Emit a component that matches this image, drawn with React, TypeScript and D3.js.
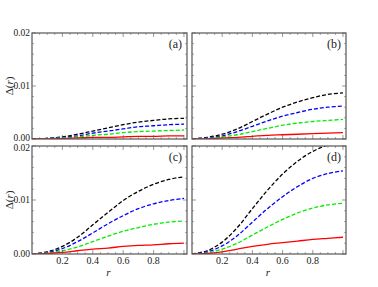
import React from 'react';
import * as d3 from 'd3';

// r sample points
const rValues = [0, 0.1, 0.2, 0.3, 0.4, 0.5, 0.6, 0.7, 0.8, 0.9, 1.0];

// panel (a)
const aBlack = [0, 0.0001, 0.0004, 0.0009, 0.0015, 0.0021, 0.0027, 0.0032, 0.0035, 0.0038, 0.0039];
const aBlue = [0, 0.0001, 0.0003, 0.0006, 0.0011, 0.0015, 0.0019, 0.0023, 0.0025, 0.0027, 0.0028];
const aGreen = [0, 0.00005, 0.0002, 0.0004, 0.0007, 0.0009, 0.0012, 0.0014, 0.0015, 0.0016, 0.0017];
const aRed = [0, 0.00002, 0.0001, 0.0002, 0.0003, 0.0003, 0.0004, 0.0005, 0.0005, 0.0006, 0.0006];

// panel (b)
const bBlack = [0, 0.0003, 0.0009, 0.0019, 0.0033, 0.0047, 0.006, 0.007, 0.0078, 0.0084, 0.0087];
const bBlue = [0, 0.0002, 0.0006, 0.0014, 0.0024, 0.0034, 0.0043, 0.005, 0.0056, 0.006, 0.0062];
const bGreen = [0, 0.0001, 0.0004, 0.0008, 0.0014, 0.002, 0.0026, 0.003, 0.0033, 0.0035, 0.0037];
const bRed = [0, 0.00003, 0.0002, 0.0003, 0.0005, 0.0007, 0.0008, 0.0009, 0.001, 0.0011, 0.0012];

// panel (c)
const cBlack = [0, 0.0004, 0.0014, 0.0031, 0.0054, 0.0077, 0.0099, 0.0116, 0.0129, 0.0138, 0.0143];
const cBlue = [0, 0.0003, 0.001, 0.0023, 0.0039, 0.0056, 0.0071, 0.0084, 0.0093, 0.0099, 0.0103];
const cGreen = [0, 0.0002, 0.0006, 0.0013, 0.0023, 0.0033, 0.0042, 0.0049, 0.0055, 0.0059, 0.0061];
const cRed = [0, 0.0001, 0.0003, 0.0006, 0.0009, 0.0011, 0.0014, 0.0016, 0.0017, 0.0019, 0.002];

// panel (d)
const dBlack = [0, 0.0006, 0.0022, 0.0049, 0.0084, 0.0118, 0.0148, 0.0172, 0.019, 0.0202, 0.021];
const dBlue = [0, 0.0004, 0.0015, 0.0034, 0.0059, 0.0084, 0.0106, 0.0125, 0.014, 0.0149, 0.0154];
const dGreen = [0, 0.0002, 0.0009, 0.002, 0.0035, 0.005, 0.0064, 0.0076, 0.0085, 0.0091, 0.0094];
const dRed = [0, 0.0001, 0.0004, 0.0009, 0.0014, 0.0018, 0.0021, 0.0024, 0.0027, 0.0029, 0.0031];

const panelLabels = ['(a)', '(b)', '(c)', '(d)'];
const xTickLabels = ['0.2', '0.4', '0.6', '0.8'];
const yTickLabels = ['0.00', '0.01', '0.02'];

const seriesStyles = [
  { color: '#000000', dash: '4,2' },
  { color: '#0000ff', dash: '4,2' },
  { color: '#00ee00', dash: '4,2' },
  { color: '#ff0000', dash: null },
];

const panelData = [
  [aBlack, aBlue, aGreen, aRed],
  [bBlack, bBlue, bGreen, bRed],
  [cBlack, cBlue, cGreen, cRed],
  [dBlack, dBlue, dGreen, dRed],
];

const cols = [[32, 187], [192, 346]];
const rows = [[33, 139], [146, 254]];
const font = 'Liberation Serif, Times New Roman, DejaVu Serif, serif';
const frameColor = '#555';

const Panel = ({ idx }: { idx: number }) => {
  const col = idx % 2;
  const row = Math.floor(idx / 2);
  const [x0, x1] = cols[col];
  const [y0, y1] = rows[row];
  const x = d3.scaleLinear().domain([0, 1.02]).range([x0, x1]);
  const y = d3.scaleLinear().domain([0, 0.02]).range([y1, y0]);
  const line = d3
    .line<number>()
    .x((_, i) => x(rValues[i]))
    .y((d) => y(d))
    .curve(d3.curveCatmullRom.alpha(0.5));

  const majorX = [0.2, 0.4, 0.6, 0.8, 1.0];
  const minorX = d3.range(0.05, 1.01, 0.05).filter((v) => Math.abs(v * 5 - Math.round(v * 5)) > 1e-6);
  const majorY = [0, 0.01, 0.02];
  const minorY = d3.range(0.002, 0.02, 0.002).filter((v) => Math.abs(v * 100 - Math.round(v * 100)) > 1e-6);
  const clipId = `clip-${idx}`;

  // nudge the stacked 0.00 / 0.02 labels between the rows apart
  const yLabelShift = (i: number) => (row === 0 && i === 0 ? -1.5 : row === 1 && i === 2 ? 1.5 : 0);

  return (
    <g>
      <defs>
        <clipPath id={clipId}>
          <rect x={x0} y={y0} width={x1 - x0} height={y1 - y0} />
        </clipPath>
      </defs>
      <g clipPath={`url(#${clipId})`}>
        {panelData[idx].map((vals, i) => (
          <path
            key={i}
            d={line(vals) || ''}
            fill="none"
            stroke={seriesStyles[i].color}
            strokeWidth={1.3}
            strokeDasharray={seriesStyles[i].dash || undefined}
          />
        ))}
      </g>
      {/* ticks */}
      {majorX.map((v) => (
        <g key={'mx' + v} stroke={frameColor} strokeWidth={0.6}>
          <line x1={x(v)} x2={x(v)} y1={y1} y2={y1 - 4} />
          <line x1={x(v)} x2={x(v)} y1={y0} y2={y0 + 4} />
        </g>
      ))}
      {minorX.map((v) => (
        <g key={'nx' + v} stroke={frameColor} strokeWidth={0.5}>
          <line x1={x(v)} x2={x(v)} y1={y1} y2={y1 - 2} />
          <line x1={x(v)} x2={x(v)} y1={y0} y2={y0 + 2} />
        </g>
      ))}
      {majorY.map((v) => (
        <g key={'my' + v} stroke={frameColor} strokeWidth={0.6}>
          <line x1={x0} x2={x0 + 4} y1={y(v)} y2={y(v)} />
          <line x1={x1} x2={x1 - 4} y1={y(v)} y2={y(v)} />
        </g>
      ))}
      {minorY.map((v) => (
        <g key={'ny' + v} stroke={frameColor} strokeWidth={0.5}>
          <line x1={x0} x2={x0 + 2} y1={y(v)} y2={y(v)} />
          <line x1={x1} x2={x1 - 2} y1={y(v)} y2={y(v)} />
        </g>
      ))}
      <rect x={x0} y={y0} width={x1 - x0} height={y1 - y0} fill="none" stroke={frameColor} strokeWidth={1.2} />
      <text x={x1 - 5} y={y0 + 15} textAnchor="end" fontFamily={font} fontSize={12} fill="#222">
        {panelLabels[idx]}
      </text>
      {col === 0 &&
        yTickLabels.map((t, i) => (
          <text
            key={t}
            x={x0 - 2}
            y={y(majorY[i]) + 3.2 + yLabelShift(i)}
            textAnchor="end"
            fontFamily={font}
            fontSize={9.5}
            fill="#222"
          >
            {t}
          </text>
        ))}
      {row === 1 &&
        xTickLabels.map((t, i) => (
          <text key={t} x={x(majorX[i])} y={y1 + 10} textAnchor="middle" fontFamily={font} fontSize={10} fill="#222">
            {t}
          </text>
        ))}
      {col === 0 && (
        <text
          transform={`translate(13,${(y0 + y1) / 2}) rotate(-90)`}
          textAnchor="middle"
          fontFamily={font}
          fontSize={11}
          fill="#222"
        >
          Δ(<tspan fontStyle="italic">r</tspan>)
        </text>
      )}
      {row === 1 && (
        <text x={(x0 + x1) / 2 - 1} y={y1 + 22} textAnchor="middle" fontFamily={font} fontSize={11} fontStyle="italic" fill="#222">
          r
        </text>
      )}
    </g>
  );
};

export default function App() {
  return (
    <svg width={378} height={287} style={{ position: 'absolute', left: 0, top: 0, background: '#fff' }}>
      {[0, 1, 2, 3].map((i) => (
        <Panel key={i} idx={i} />
      ))}
    </svg>
  );
}
